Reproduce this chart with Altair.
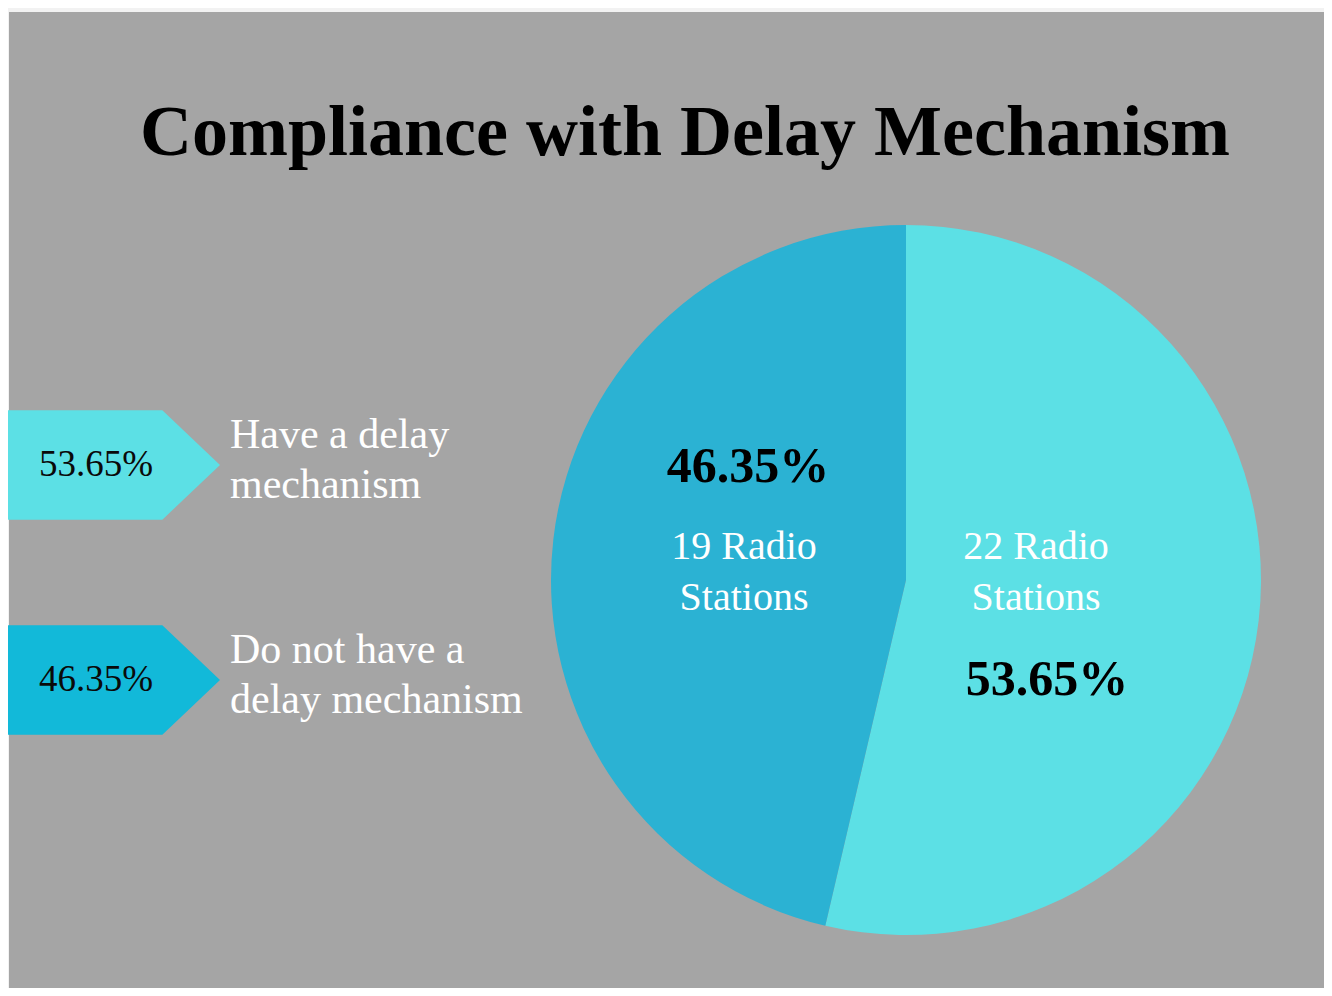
import altair as alt
import pandas as pd

# ---- data ----
categories = ["Have a delay mechanism", "Do not have a delay mechanism"]
percent_values = [53.65, 46.35]
percent_labels = ["53.65%", "46.35%"]
station_labels = ["22 Radio\nStations", "19 Radio\nStations"]
legend_labels = ["Have a delay\nmechanism", "Do not have a\ndelay mechanism"]
title_text = "Compliance with Delay Mechanism"

pie_colors = ["#5ce0e5", "#2bb2d3"]
legend_colors = ["#5ce0e5", "#12b9d9"]

W, H = 1316, 980
FONT = "Liberation Serif"

df = pd.DataFrame({
    "category": categories,
    "value": percent_values,
    "pct": percent_labels,
    "stations": station_labels,
    "legend": legend_labels,
    "ord": [0, 1],
})

base = alt.Chart(df)

# background panel
bg = alt.Chart(pd.DataFrame({"a": [0]})).mark_rect(color="#a5a5a5").encode(
    x=alt.value(1), x2=alt.value(W), y=alt.value(4), y2=alt.value(H)
)

title = alt.Chart(pd.DataFrame({"t": [title_text]})).mark_text(
    font=FONT, fontSize=72, fontWeight="bold", color="#000000",
    align="center", baseline="alphabetic"
).encode(x=alt.value(677), y=alt.value(147), text="t:N")

# pie
pie = base.mark_arc(outerRadius=355, strokeWidth=0).encode(
    theta=alt.Theta("value:Q", stack=True),
    color=alt.Color("category:N", scale=alt.Scale(domain=categories, range=pie_colors), legend=None),
    order=alt.Order("ord:Q"),
    x=alt.value(898), y=alt.value(572),
)

def pie_text(cat, field, x, y, size, color, weight):
    return base.transform_filter(alt.datum.category == cat).mark_text(
        font=FONT, fontSize=size, fontWeight=weight, color=color,
        align="center", baseline="middle", lineBreak="\n", lineHeight=51
    ).encode(x=alt.value(x), y=alt.value(y), text=f"{field}:N")

t1 = pie_text(categories[1], "pct", 740, 459, 50, "#000000", "bold")
t2 = pie_text(categories[1], "stations", 736, 539, 40, "#ffffff", "normal")
t3 = pie_text(categories[0], "stations", 1028, 539, 40, "#ffffff", "normal")
t4 = pie_text(categories[0], "pct", 1039, 672, 50, "#000000", "bold")

# legend
yscale = alt.Scale(type="point", domain=categories, range=[457, 672], padding=0)
arrow_path = "M -1 -0.516 L 0.456 -0.516 L 1 0 L 0.456 0.516 L -1 0.516 Z"

leg_shape = base.mark_point(shape=arrow_path, filled=True, opacity=1, size=212 * 212, strokeWidth=0).encode(
    x=alt.value(106),
    y=alt.Y("category:N", scale=yscale, axis=None),
    color=alt.Color("category:N", scale=alt.Scale(domain=categories, range=legend_colors), legend=None),
)
leg_pct = base.mark_text(font=FONT, fontSize=37, color="#0a0a0a", align="center", baseline="middle").encode(
    x=alt.value(88),
    y=alt.Y("category:N", scale=yscale, axis=None),
    text="pct:N",
)
leg_lab = base.mark_text(font=FONT, fontSize=42, color="#ffffff", align="left", baseline="middle",
                         lineBreak="\n", lineHeight=50, dy=-30).encode(
    x=alt.value(222),
    y=alt.Y("category:N", scale=yscale, axis=None),
    text="legend:N",
)

chart = alt.layer(bg, title, pie, t1, t2, t3, t4, leg_shape, leg_pct, leg_lab).resolve_scale(
    color="independent"
).properties(
    width=W, height=H, background="#f2f2f2", padding=0,
    autosize=alt.AutoSizeParams(type="none"),
).configure_view(stroke=None)

chart.save("out.html", embed_options={"renderer": "svg", "actions": False})
